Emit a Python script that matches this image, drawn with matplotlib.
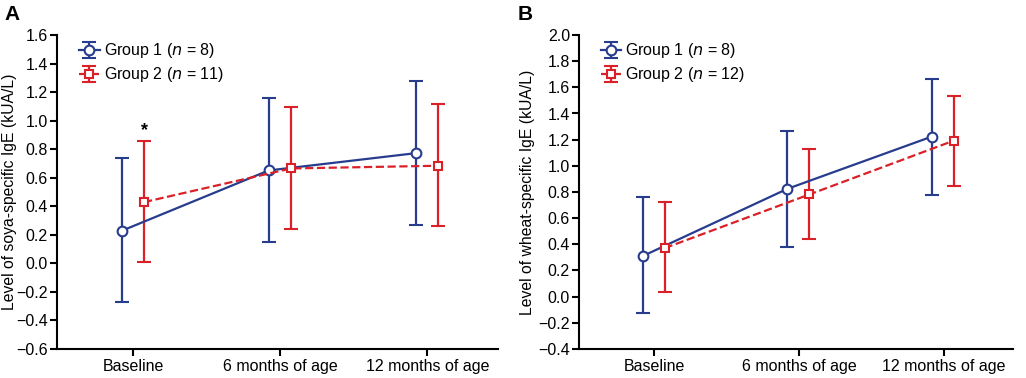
import matplotlib
matplotlib.use("Agg")
import matplotlib.pyplot as plt
import numpy as np

plt.rcParams['font.family'] = ['Liberation Sans', 'DejaVu Sans']

categories = ["Baseline", "6 months of age", "12 months of age"]

# Panel A: soya-specific IgE
a_g1_mean = [0.228, 0.651, 0.772]
a_g1_upper = [0.737, 1.158, 1.280]
a_g1_lower = [-0.273, 0.151, 0.272]
a_g2_mean = [0.429, 0.665, 0.684]
a_g2_upper = [0.859, 1.098, 1.119]
a_g2_lower = [0.013, 0.239, 0.260]
a_labels = ["Group 1 ($n$ = 8)", "Group 2 ($n$ = 11)"]

# Panel B: wheat-specific IgE
b_g1_mean = [0.310, 0.824, 1.224]
b_g1_upper = [0.758, 1.270, 1.667]
b_g1_lower = [-0.128, 0.376, 0.776]
b_g2_mean = [0.371, 0.781, 1.193]
b_g2_upper = [0.720, 1.132, 1.537]
b_g2_lower = [0.033, 0.440, 0.849]
b_labels = ["Group 1 ($n$ = 8)", "Group 2 ($n$ = 12)"]

BLUE = "#283c8e"
RED = "#db2128"

fig = plt.figure(figsize=(10.26, 3.78), dpi=100)
axA = fig.add_axes([57/1026, 29/378, (498-57)/1026, (349-35)/378])
axB = fig.add_axes([579/1026, 29/378, (1013-579)/1026, (349-35)/378])

def draw(ax, g1m, g1u, g1l, g2m, g2u, g2l, labels, ylim, yticks, ylabel, labelx):
    x = np.arange(len(categories))
    off1, off2 = -0.08, 0.072
    for m, u, l, off, col, mk, ls, lab in [
        (g1m, g1u, g1l, off1, BLUE, 'o', '-', labels[0]),
        (g2m, g2u, g2l, off2, RED, 's', '--', labels[1]),
    ]:
        m = np.array(m); u = np.array(u); l = np.array(l)
        eb = ax.errorbar(x + off, m, yerr=[m - l, u - m], color=col, marker=mk,
                         markersize=7 if mk == 'o' else 6, markerfacecolor='white',
                         markeredgecolor=col, markeredgewidth=1.5, linewidth=1.6,
                         linestyle=ls, capsize=4.7, capthick=1.6, elinewidth=1.6,
                         label=lab, zorder=3)
        eb[-1][0].set_linestyle('-')
    ax.set_xlim(-0.52, 2.48)
    ax.set_ylim(*ylim)
    ax.set_yticks(yticks)
    ax.set_yticklabels([f"{v:.1f}".replace('-', '\u2212') for v in yticks])
    ax.set_xticks(x)
    ax.set_xticklabels(categories)
    ax.spines['top'].set_visible(False)
    ax.spines['right'].set_visible(False)
    for s in ['left', 'bottom']:
        ax.spines[s].set_linewidth(1.5)
    ax.tick_params(axis='both', labelsize=11.5, width=1.5, length=5, color='black', pad=1.5)
    ax.tick_params(axis='x', pad=2)
    ax.set_ylabel(ylabel, fontsize=11.3)
    ax.yaxis.set_label_coords(labelx, 0.5)
    ax.legend(loc='upper left', bbox_to_anchor=(0.035, 1.0), frameon=False,
              fontsize=11.5, handlelength=1.3, handletextpad=0.25,
              labelspacing=0.3, borderaxespad=0)

draw(axA, a_g1_mean, a_g1_upper, a_g1_lower, a_g2_mean, a_g2_upper, a_g2_lower,
     a_labels, (-0.6, 1.6), np.round(np.arange(-0.6, 1.61, 0.2), 1),
     "Level of soya-specific IgE (kUA/L)", -0.09)
draw(axB, b_g1_mean, b_g1_upper, b_g1_lower, b_g2_mean, b_g2_upper, b_g2_lower,
     b_labels, (-0.4, 2.0), np.round(np.arange(-0.4, 2.01, 0.2), 1),
     "Level of wheat-specific IgE (kUA/L)", -0.101)

axA.text(0.072, 0.93, "*", ha='center', va='center', fontsize=13, fontweight='bold')

fig.text(4/1026, 1 - 5/378, "A", ha='left', va='top', fontsize=15, fontweight='bold')
fig.text(518/1026, 1 - 5/378, "B", ha='left', va='top', fontsize=15, fontweight='bold')

fig.savefig("out.png", dpi=100)
